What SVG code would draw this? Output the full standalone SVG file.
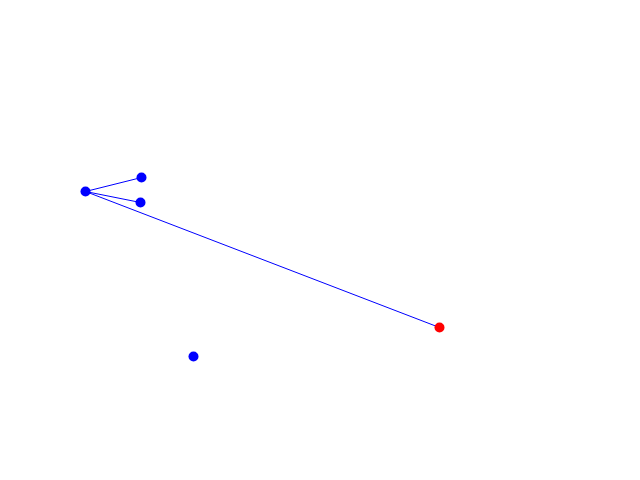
<svg xmlns="http://www.w3.org/2000/svg" width="640" height="480" viewBox="0 0 640 480">
<style>
.e{stroke:#0000ff;stroke-width:1;fill:none}
.n{fill:#0000ff}
.r{fill:#ff0000}
</style>
<rect width="640" height="480" fill="#ffffff"/>
<g id="edges">
<line class="e" x1="85.5" y1="191.5" x2="141.5" y2="177.5"/>
<line class="e" x1="85.5" y1="191.5" x2="140.5" y2="202.5"/>
<line class="e" x1="85.5" y1="191.5" x2="439.5" y2="327.5"/>
</g>
<g id="n0"><circle class="n" cx="85.5" cy="191.5" r="5"/></g>
<g id="n1"><circle class="n" cx="141.5" cy="177.5" r="5"/></g>
<g id="n2"><circle class="n" cx="140.5" cy="202.5" r="5"/></g>
<g id="n3"><circle class="r" cx="439.5" cy="327.5" r="5"/></g>
<g id="n4"><circle class="n" cx="193.5" cy="356.5" r="5"/></g>
</svg>
